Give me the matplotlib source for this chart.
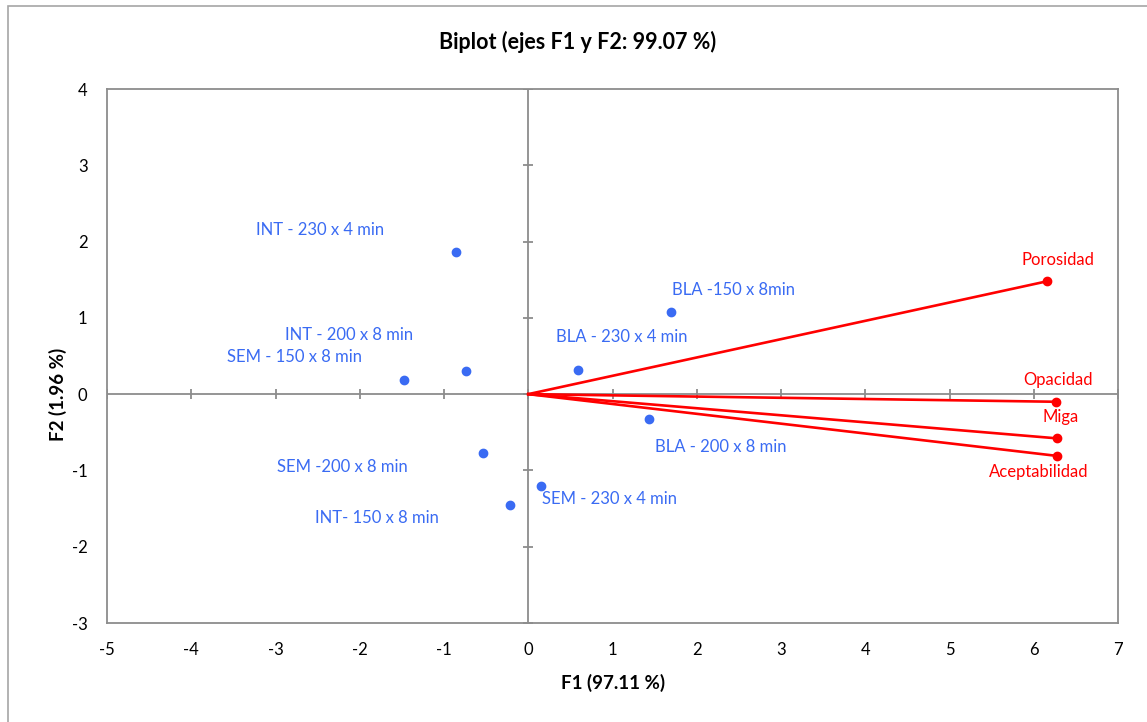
import matplotlib.pyplot as plt
from matplotlib.patches import Rectangle

# observations (F1, F2)
obs_names = ['INT - 230 x 4 min', 'BLA -150 x 8min', 'BLA - 230 x 4 min', 'INT - 200 x 8 min',
             'SEM - 150 x 8 min', 'BLA - 200 x 8 min', 'SEM -200 x 8 min', 'SEM - 230 x 4 min',
             'INT- 150 x 8 min']
obs_f1 = [-0.86, 1.69, 0.59, -0.74, -1.47, 1.43, -0.54, 0.15, -0.22]
obs_f2 = [1.86, 1.08, 0.31, 0.30, 0.19, -0.33, -0.77, -1.20, -1.45]

# variables (loadings)
var_names = ['Porosidad', 'Opacidad', 'Miga', 'Aceptabilidad']
var_f1 = [6.16, 6.27, 6.28, 6.28]
var_f2 = [1.48, -0.10, -0.58, -0.81]

xticks = list(range(-5, 8))
yticks = list(range(-3, 5))

# label offsets in pixels (dx, dy)
obs_off = [(-136, 22), (63, 22), (44, 33), (-117, 36), (-110, 23), (72, -28), (-140, -14), (69, -13), (-133, -13)]
var_off = [(11, 21), (2, 22), (3, 21), (-19, -16)]

plt.rcParams['font.family'] = ['Lato', 'DejaVu Sans']
plt.rcParams['axes.unicode_minus'] = False
gray = '#8c8c8c'
blue = '#3a6bf3'
red = '#ff0000'

fig = plt.figure(figsize=(11.47, 7.22), dpi=100)
ax = fig.add_axes([107/1147, 1-623/722, (1118-107)/1147, (623-89)/722])

# outer chart border
fig.patches.append(Rectangle((8/1147, -0.1), 1.2, 1-6/722+0.1, transform=fig.transFigure,
                             fill=False, edgecolor='#a6a6a6', lw=1.2))

ax.set_xlim(-5, 7)
ax.set_ylim(-3, 4)
ax.set_xticks(xticks)
ax.set_yticks(yticks)
ax.tick_params(length=0, labelsize=12, pad=14)
for s in ax.spines.values():
    s.set_color(gray)
    s.set_linewidth(1.3)

# zero lines with crossing ticks
ax.axhline(0, color=gray, lw=1.3, zorder=1)
ax.axvline(0, color=gray, lw=1.3, zorder=1)
ax.plot(xticks, [0]*len(xticks), '|', color=gray, ms=7, mew=1.3, zorder=1)
ax.plot([0]*len(yticks), yticks, '_', color=gray, ms=7, mew=1.3, zorder=1)

# variable vectors
for x, y in zip(var_f1, var_f2):
    ax.plot([0, x], [0, y], color=red, lw=1.9, zorder=3)
ax.plot(var_f1, var_f2, 'o', color=red, ms=6, zorder=4)
for n, x, y, (dx, dy) in zip(var_names, var_f1, var_f2, var_off):
    ax.annotate(n, (x, y), xytext=(dx, dy), textcoords='offset pixels', color=red,
                fontsize=12, ha='center', va='center')

# observations
ax.plot(obs_f1, obs_f2, 'o', color=blue, ms=6, zorder=4)
for n, x, y, (dx, dy) in zip(obs_names, obs_f1, obs_f2, obs_off):
    ax.annotate(n, (x, y), xytext=(dx, dy), textcoords='offset pixels', color=blue,
                fontsize=12, ha='center', va='center')

fig.text(578/1147, 1-42/722, 'Biplot (ejes F1 y F2: 99.07 %)', ha='center', va='center',
         fontsize=15.5, fontweight='bold')
fig.text(613/1147, 1-683/722, 'F1 (97.11 %)', ha='center', va='center', fontsize=13.5, fontweight='bold')
fig.text(58/1147, 1-394/722, 'F2 (1.96 %)', ha='center', va='center', fontsize=13.5,
         fontweight='bold', rotation=90)

fig.savefig('out.png', dpi=100)
